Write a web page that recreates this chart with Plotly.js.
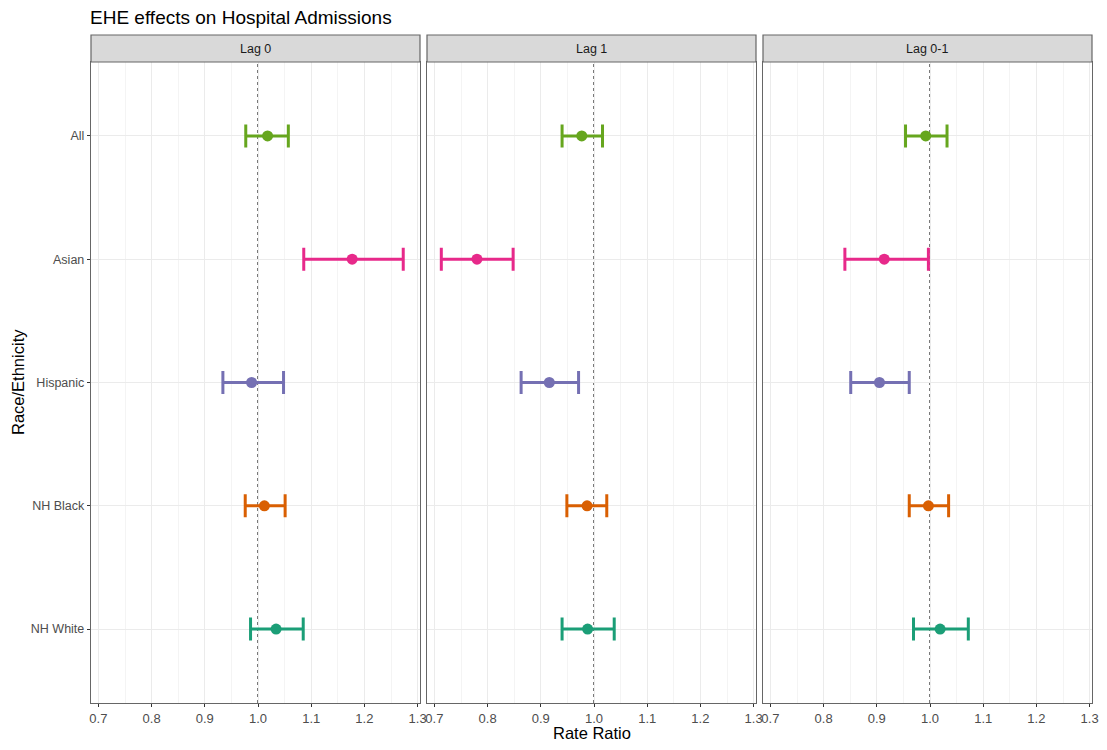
<!DOCTYPE html>
<html>
<head>
<meta charset="utf-8">
<script src="https://cdn.plot.ly/plotly-3.0.1.min.js"></script>
<style>html,body{margin:0;padding:0;background:#fff;}#chart{width:1107px;height:750px;}</style>
</head>
<body>
<div id="chart"></div>
<script>
const categories = ['All', 'Asian', 'Hispanic', 'NH Black', 'NH White'];
const panels = ['Lag 0', 'Lag 1', 'Lag 0-1'];
const colors = ['#66A61E', '#E7298A', '#7570B3', '#D95F02', '#1B9E77'];

const lag0_est = [1.018, 1.177, 0.988, 1.012, 1.034];
const lag0_lo  = [0.977, 1.086, 0.934, 0.976, 0.986];
const lag0_hi  = [1.057, 1.273, 1.048, 1.051, 1.085];

const lag1_est = [0.977, 0.780, 0.916, 0.987, 0.988];
const lag1_lo  = [0.940, 0.713, 0.863, 0.949, 0.940];
const lag1_hi  = [1.016, 0.848, 0.971, 1.024, 1.038];

const lag01_est = [0.992, 0.914, 0.905, 0.997, 1.019];
const lag01_lo  = [0.954, 0.840, 0.851, 0.961, 0.969];
const lag01_hi  = [1.032, 0.997, 0.961, 1.035, 1.072];

const xTickVals = [0.7, 0.8, 0.9, 1.0, 1.1, 1.2, 1.3];
const xTickText = ['0.7', '0.8', '0.9', '1.0', '1.1', '1.2', '1.3'];

const panelData = [
  {est: lag0_est, lo: lag0_lo, hi: lag0_hi},
  {est: lag1_est, lo: lag1_lo, hi: lag1_hi},
  {est: lag01_est, lo: lag01_lo, hi: lag01_hi}
];

// geometry (pixels)
const W = 1107, H = 750;
const mL = 91, mR = 14, mT = 62, mB = 47;
const pw = W - mL - mR, ph = H - mT - mB;
const panelW = 329, gap = 7;
const domains = [0, 1, 2].map(i => [(i * (panelW + gap)) / pw, (i * (panelW + gap) + panelW) / pw]);
const stripH = 27;

const traces = [];
panelData.forEach((pd, p) => {
  const xa = p === 0 ? 'x' : 'x' + (p + 1);
  const ya = p === 0 ? 'y' : 'y' + (p + 1);
  categories.forEach((c, i) => {
    traces.push({
      type: 'scatter', mode: 'markers',
      x: [pd.est[i]], y: [c],
      xaxis: xa, yaxis: ya,
      marker: {color: colors[i], size: 11},
      error_x: {type: 'data', symmetric: false,
        array: [pd.hi[i] - pd.est[i]], arrayminus: [pd.est[i] - pd.lo[i]],
        color: colors[i], thickness: 3, width: 11.5},
      showlegend: false, hoverinfo: 'x+y'
    });
  });
});

const font = {family: 'Liberation Sans, Arial, sans-serif'};
const layout = {
  width: W, height: H,
  margin: {l: mL, r: mR, t: mT, b: mB},
  paper_bgcolor: '#fff', plot_bgcolor: '#fff',
  font: {family: font.family, color: '#4d4d4d'},
  showlegend: false,
  title: {text: 'EHE effects on Hospital Admissions', xref: 'container', yref: 'container',
    x: 90 / W, xanchor: 'left', y: 1 - 17 / H, yanchor: 'middle',
    font: {family: font.family, size: 19, color: '#000'}},
  shapes: [], annotations: []
};

for (let p = 0; p < 3; p++) {
  const sfx = p === 0 ? '' : String(p + 1);
  layout['xaxis' + sfx] = {
    domain: domains[p], anchor: 'y' + sfx, range: [0.6861, 1.3045],
    tickvals: xTickVals, ticktext: xTickText,
    ticks: 'outside', ticklen: 3, tickcolor: '#333', tickwidth: 1,
    tickfont: {size: 13, color: '#4d4d4d'},
    showgrid: true, gridcolor: '#ebebeb', gridwidth: 1,
    minor: {dtick: 0.05, tick0: 0.7, showgrid: true, gridcolor: '#f4f4f4', gridwidth: 1},
    showline: true, mirror: true, linecolor: '#666', linewidth: 1.2,
    zeroline: false, fixedrange: true
  };
  layout['yaxis' + sfx] = {
    domain: [0, 1], anchor: 'x' + sfx,
    type: 'category', categoryorder: 'array', categoryarray: categories,
    range: [4.6, -0.6],
    showticklabels: p === 0,
    ticks: p === 0 ? 'outside' : '', ticklen: 3, tickcolor: '#333',
    tickfont: {size: 12.5, color: '#4d4d4d'},
    showgrid: true, gridcolor: '#ebebeb', gridwidth: 1,
    showline: true, mirror: true, linecolor: '#666', linewidth: 1.2,
    zeroline: false, fixedrange: true
  };
  // reference line at 1
  layout.shapes.push({type: 'line', xref: 'x' + sfx, yref: 'y' + sfx + ' domain',
    x0: 1, x1: 1, y0: 0, y1: 1, line: {color: '#333', width: 1.3, dash: '3px,3px'}, layer: 'below'});
  // strip
  layout.shapes.push({type: 'rect', xref: 'paper', yref: 'paper',
    x0: domains[p][0], x1: domains[p][1], y0: 1, y1: 1 + stripH / ph,
    fillcolor: '#d9d9d9', line: {color: '#666', width: 1.2}});
  layout.annotations.push({xref: 'paper', yref: 'paper',
    x: (domains[p][0] + domains[p][1]) / 2, y: 1 + stripH / 2 / ph,
    xanchor: 'center', yanchor: 'middle', showarrow: false,
    text: panels[p], font: {size: 12.5, color: '#1a1a1a'}});
}

// axis titles
layout.annotations.push({xref: 'paper', yref: 'paper', x: (domains[1][0] + domains[1][1]) / 2,
  y: -(733 - (H - mB)) / ph, xanchor: 'center', yanchor: 'middle', showarrow: false,
  text: 'Rate Ratio', font: {size: 16.5, color: '#000'}});
layout.annotations.push({xref: 'paper', yref: 'paper', x: -(mL - 18) / pw, y: 1 - (382 - mT) / ph,
  xanchor: 'center', yanchor: 'middle', showarrow: false, textangle: -90,
  text: 'Race/Ethnicity', font: {size: 16.5, color: '#000'}});

Plotly.newPlot('chart', traces, layout, {displayModeBar: false, staticPlot: true});
</script>
</body>
</html>
